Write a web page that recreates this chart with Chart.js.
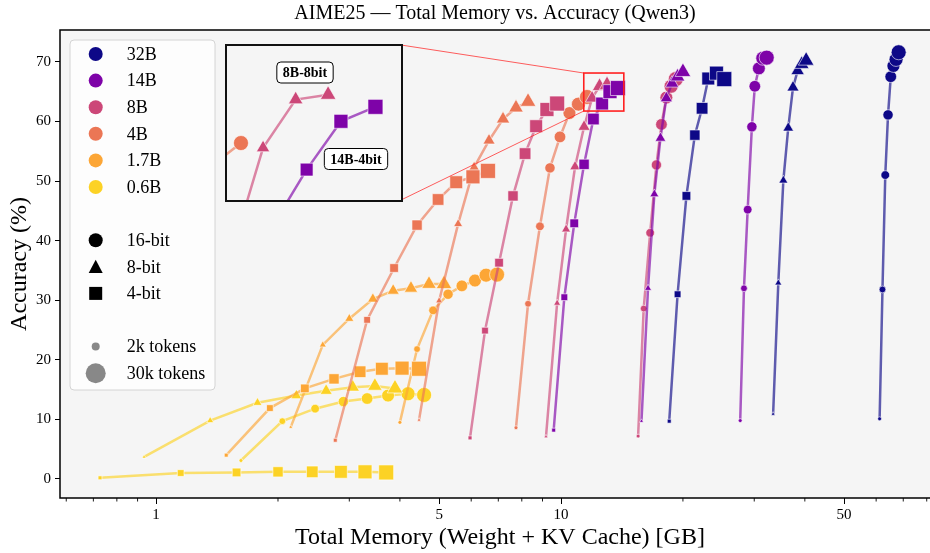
<!DOCTYPE html>
<html><head><meta charset="utf-8">
<script src="https://cdn.jsdelivr.net/npm/chart.js@4.4.1/dist/chart.umd.min.js"></script>
<style>
html,body{margin:0;padding:0;background:#fff;}
#wrap{position:relative;width:930px;height:553px;overflow:hidden;}
#main{position:absolute;left:0;top:0;}
#insetBox{position:absolute;left:225px;top:44px;width:174px;height:154px;border:2px solid #111;background:#f5f5f5;}
#inset{display:block;}
</style></head><body>
<div id="wrap"><canvas id="main" width="930" height="553"></canvas>
<div id="insetBox"><canvas id="inset" width="174" height="154"></canvas></div></div>
<script>
// ---------------- data ----------------
const MODELS = ['32B','14B','8B','4B','1.7B','0.6B'];
const BITS = [16, 8, 4];
const TOKENS_K = [2, 6, 10, 14, 18, 22, 26, 30];   // token budgets (k)
const X_TICKS = [1, 5, 10, 50];
const X_MINOR = [0.6,0.7,0.8,0.9,2,3,4,6,7,8,9,20,30,40,60,70,80];
const Y_TICKS = [0, 10, 20, 30, 40, 50, 60, 70];

const MEM_32B_16 = [61.2, 62.2, 63.2, 64.2, 65.2, 66.2, 67.2, 68.2];
const ACC_32B_16 = [10.1, 31.8, 51.0, 61.1, 67.5, 69.3, 70.4, 71.6];
const MEM_32B_8  = [33.4, 34.4, 35.4, 36.4, 37.4, 38.4, 39.3, 40.3];
const ACC_32B_8  = [10.9, 32.9, 50.1, 58.9, 65.7, 68.5, 69.6, 70.2];
const MEM_32B_4  = [18.5, 19.4, 20.4, 21.4, 22.3, 23.1, 24.2, 25.3];
const ACC_32B_4  = [9.7, 31.0, 47.5, 57.7, 62.2, 67.2, 68.1, 67.1];

const MEM_14B_16 = [27.7, 28.3, 28.9, 29.6, 30.1, 30.8, 31.5, 32.2];
const ACC_14B_16 = [9.8, 32.0, 45.2, 59.1, 65.9, 68.9, 70.6, 70.7];
const MEM_14B_8  = [15.8, 16.4, 17.0, 17.6, 18.2, 18.8, 19.4, 20.0];
const ACC_14B_8  = [9.7, 32.0, 47.8, 57.2, 63.9, 66.4, 67.5, 68.3];
const MEM_14B_4  = [9.59, 10.19, 10.78, 11.4, 12.02, 12.63, 13.21, 13.82];
const ACC_14B_4  = [8.2, 30.5, 42.9, 52.8, 60.4, 63.0, 65.0, 65.6];

const MEM_8B_16 = [15.5, 16.0, 16.6, 17.2, 17.7, 18.2, 18.7, 19.2];
const ACC_8B_16 = [7.2, 28.6, 41.3, 52.7, 59.5, 64.0, 65.9, 67.1];
const MEM_8B_8  = [9.18, 9.78, 10.29, 10.83, 11.4, 11.93, 12.45, 12.99];
const ACC_8B_8  = [7.1, 29.5, 41.9, 52.4, 59.1, 63.9, 65.9, 66.1];
const MEM_8B_4  = [5.96, 6.49, 7.03, 7.61, 8.15, 8.68, 9.23, 9.78];
const ACC_8B_4  = [6.9, 24.9, 36.3, 47.5, 54.6, 59.2, 62.0, 63.0];

const MEM_4B_16 = [7.74, 8.29, 8.87, 9.39, 9.94, 10.49, 11.04, 11.59];
const ACC_4B_16 = [8.6, 29.4, 42.4, 52.2, 57.4, 61.4, 62.9, 64.1];
const MEM_4B_8  = [4.46, 5.0, 5.57, 6.1, 6.64, 7.19, 7.74, 8.29];
const ACC_4B_8  = [9.9, 29.9, 42.8, 52.3, 56.8, 60.4, 62.3, 63.3];
const MEM_4B_4  = [2.77, 3.32, 3.87, 4.41, 4.97, 5.51, 6.06, 6.6];
const ACC_4B_4  = [6.5, 26.7, 35.4, 42.6, 46.9, 49.8, 50.7, 51.7];

const MEM_1_7B_16 = [4.0, 4.41, 4.83, 5.26, 5.69, 6.13, 6.53, 6.95];
const ACC_1_7B_16 = [9.5, 21.8, 28.3, 31.0, 32.4, 33.3, 34.2, 34.3];
const MEM_1_7B_8  = [2.15, 2.58, 3.0, 3.43, 3.85, 4.26, 4.72, 5.14];
const ACC_1_7B_8  = [8.7, 22.5, 26.9, 30.2, 31.6, 32.0, 32.7, 32.7];
const MEM_1_7B_4  = [1.49, 1.91, 2.33, 2.75, 3.19, 3.61, 4.05, 4.46];
const ACC_1_7B_4  = [4.0, 11.9, 15.2, 16.8, 18.0, 18.5, 18.6, 18.5];

const MEM_0_6B_16 = [1.62, 2.05, 2.47, 2.90, 3.32, 3.74, 4.19, 4.59];
const ACC_0_6B_16 = [3.1, 9.7, 11.8, 13.0, 13.5, 14.0, 14.3, 14.1];
const MEM_0_6B_8  = [0.934, 1.36, 1.78, 2.22, 2.63, 3.06, 3.47, 3.89];
const ACC_0_6B_8  = [3.7, 9.8, 12.8, 14.0, 14.8, 15.4, 15.6, 15.2];
const MEM_0_6B_4  = [0.727, 1.15, 1.58, 2.0, 2.43, 2.86, 3.28, 3.70];
const ACC_0_6B_4  = [0.2, 1.0, 1.1, 1.2, 1.2, 1.2, 1.2, 1.1];

// zoomed region (inset)
const INSET_X = [11.38, 14.29];
const INSET_Y = [61.74, 68.12];

// ---------------- style ----------------
const COLORS = {'32B':'#0d0887','14B':'#7e03a8','8B':'#cc4778','4B':'#eb7655','1.7B':'#fca636','0.6B':'#fcd225'};
const FONT = '"Liberation Serif", "Times New Roman", "DejaVu Serif", serif';
const SHAPE = {16:'circle', 8:'triangle', 4:'rect'};
const SHAPE_SCALE = {16:1, 8:1.2, 4:1.41};
const X_MIN = 0.579, X_MAX = 81.5, Y_MIN = -3.19, Y_MAX = 75.34;

const SERIES = [
  {model:'32B', bits:4, mem:MEM_32B_4, acc:ACC_32B_4},
  {model:'32B', bits:8, mem:MEM_32B_8, acc:ACC_32B_8},
  {model:'32B', bits:16, mem:MEM_32B_16, acc:ACC_32B_16},
  {model:'14B', bits:4, mem:MEM_14B_4, acc:ACC_14B_4},
  {model:'14B', bits:8, mem:MEM_14B_8, acc:ACC_14B_8},
  {model:'14B', bits:16, mem:MEM_14B_16, acc:ACC_14B_16},
  {model:'8B', bits:4, mem:MEM_8B_4, acc:ACC_8B_4},
  {model:'8B', bits:8, mem:MEM_8B_8, acc:ACC_8B_8},
  {model:'8B', bits:16, mem:MEM_8B_16, acc:ACC_8B_16},
  {model:'4B', bits:4, mem:MEM_4B_4, acc:ACC_4B_4},
  {model:'4B', bits:8, mem:MEM_4B_8, acc:ACC_4B_8},
  {model:'4B', bits:16, mem:MEM_4B_16, acc:ACC_4B_16},
  {model:'1.7B', bits:4, mem:MEM_1_7B_4, acc:ACC_1_7B_4},
  {model:'1.7B', bits:8, mem:MEM_1_7B_8, acc:ACC_1_7B_8},
  {model:'1.7B', bits:16, mem:MEM_1_7B_16, acc:ACC_1_7B_16},
  {model:'0.6B', bits:4, mem:MEM_0_6B_4, acc:ACC_0_6B_4},
  {model:'0.6B', bits:8, mem:MEM_0_6B_8, acc:ACC_0_6B_8},
  {model:'0.6B', bits:16, mem:MEM_0_6B_16, acc:ACC_0_6B_16},
];

function rgba(hex, a){ const n=parseInt(hex.slice(1),16); return `rgba(${n>>16},${(n>>8)&255},${n&255},${a})`; }
function radii(bits){ return TOKENS_K.map(t => 1.37*Math.sqrt(t)*SHAPE_SCALE[bits]); }
function buildDatasets(){
  return SERIES.map(s => ({
    label: s.model+'-'+s.bits+'bit',
    data: s.mem.map((m,i)=>({x:m, y:s.acc[i]})),
    showLine: true,
    borderColor: rgba(COLORS[s.model],0.65),
    borderWidth: 2.5,
    pointStyle: SHAPE[s.bits],
    pointRadius: radii(s.bits),
    pointHoverRadius: radii(s.bits),
    pointBackgroundColor: COLORS[s.model],
    pointBorderColor: '#ffffff',
    pointBorderWidth: 0.6,
    tension: 0
  }));
}

Chart.defaults.font.family = FONT;

const bgPlugin = {
  id:'bg',
  beforeDraw(chart){
    const {ctx, chartArea:a} = chart;
    ctx.save(); ctx.fillStyle='#f5f5f5'; ctx.fillRect(a.left,a.top,a.right-a.left,a.bottom-a.top); ctx.restore();
  }
};

const decorPlugin = {
  id:'decor',
  afterDatasetsDraw(chart){
    const {ctx, chartArea:a, scales:{x,y}} = chart;
    const rx1 = x.getPixelForValue(INSET_X[0]), rx2 = x.getPixelForValue(INSET_X[1]);
    const ry1 = y.getPixelForValue(INSET_Y[1]), ry2 = y.getPixelForValue(INSET_Y[0]);
    ctx.save();
    ctx.strokeStyle='rgba(255,40,40,0.75)'; ctx.lineWidth=1;
    ctx.beginPath(); ctx.moveTo(401,45); ctx.lineTo(rx1,ry1); ctx.moveTo(401,200); ctx.lineTo(rx1,ry2); ctx.stroke();
    ctx.strokeStyle='#ff2020'; ctx.lineWidth=1.6;
    ctx.strokeRect(rx1,ry1,rx2-rx1,ry2-ry1);
    ctx.restore();
  },
  afterDraw(chart){
    const {ctx, chartArea:a, scales:{x,y}} = chart;
    ctx.save();
    ctx.strokeStyle='#000'; ctx.lineWidth=1.5;
    ctx.beginPath();
    ctx.moveTo(a.right+2, a.top); ctx.lineTo(a.left, a.top); ctx.lineTo(a.left, a.bottom); ctx.lineTo(a.right+2, a.bottom);
    ctx.stroke();
    ctx.lineWidth=0.9;
    ctx.beginPath();
    X_MINOR.forEach(v=>{ const px=x.getPixelForValue(v); if(px>=a.left&&px<=a.right){ ctx.moveTo(px,a.bottom); ctx.lineTo(px,a.bottom+3.5);} });
    ctx.stroke();
    ctx.fillStyle='#000'; ctx.textAlign='center'; ctx.textBaseline='middle';
    ctx.font='20px '+FONT;
    ctx.fillText('AIME25 \u2014 Total Memory vs. Accuracy (Qwen3)', 495, 14);
    ctx.font='24px '+FONT;
    ctx.fillText('Total Memory (Weight + KV Cache) [GB]', 500, 538);
    ctx.translate(20,(a.top+a.bottom)/2); ctx.rotate(-Math.PI/2);
    ctx.fillText('Accuracy (%)',0,0);
    ctx.restore();
    drawLegend(ctx);
  }
};

function drawShape(ctx, shape, cx, cy, r, color){
  ctx.fillStyle=color;
  ctx.beginPath();
  if(shape==='circle'){ ctx.arc(cx,cy,r,0,Math.PI*2); }
  else if(shape==='triangle'){ ctx.moveTo(cx,cy-r); ctx.lineTo(cx+r,cy+r*0.9); ctx.lineTo(cx-r,cy+r*0.9); ctx.closePath(); }
  else { ctx.rect(cx-r,cy-r,2*r,2*r); }
  ctx.fill();
}

function drawLegend(ctx){
  ctx.save();
  const bx=70, by=40, bw=145, bh=350, rad=4;
  ctx.fillStyle='rgba(255,255,255,0.8)'; ctx.strokeStyle='#d4d4d4'; ctx.lineWidth=1;
  ctx.beginPath(); ctx.roundRect(bx,by,bw,bh,rad); ctx.fill(); ctx.stroke();
  const rows = [];
  MODELS.forEach(m=>rows.push({shape:'circle', r:7, color:COLORS[m], label:m}));
  rows.push(null);
  rows.push({shape:'circle', r:7, color:'#000', label:'16-bit'});
  rows.push({shape:'triangle', r:7, color:'#000', label:'8-bit'});
  rows.push({shape:'square', r:6.5, color:'#000', label:'4-bit'});
  rows.push(null);
  rows.push({shape:'circle', r:4, color:'#888', label:TOKENS_K[0]+'k tokens'});
  rows.push({shape:'circle', r:10, color:'#888', label:TOKENS_K[TOKENS_K.length-1]+'k tokens'});
  ctx.font='18px '+FONT; ctx.textAlign='left'; ctx.textBaseline='middle';
  rows.forEach((row,i)=>{
    if(!row) return;
    const cy = 54 + i*26.6;
    drawShape(ctx,row.shape,95.7,cy,row.r,row.color);
    ctx.fillStyle='#000'; ctx.fillText(row.label,126.7,cy+1);
  });
  ctx.restore();
}

new Chart(document.getElementById('main'), {
  type:'scatter',
  data:{datasets: buildDatasets()},
  options:{
    responsive:false, animation:false, events:[],
    layout:{autoPadding:false, padding:{top:30,right:0,left:0,bottom:0}},
    plugins:{legend:{display:false}, tooltip:{enabled:false}, title:{display:false}},
    scales:{
      x:{type:'logarithmic', min:X_MIN, max:X_MAX,
        afterFit(s){ s.height=55; s.paddingLeft=0; s.paddingRight=0; },
        afterBuildTicks(s){ s.ticks = X_TICKS.map(v=>({value:v})); },
        ticks:{color:'#000', font:{size:15, family:FONT}, padding:2, maxRotation:0, autoSkip:false, callback:v=>String(v)},
        grid:{display:true, drawOnChartArea:false, drawTicks:true, tickLength:6, tickColor:'#000', tickWidth:1},
        border:{display:false}},
      y:{type:'linear', min:Y_MIN, max:Y_MAX,
        afterFit(s){ s.width=60; s.paddingTop=0; s.paddingBottom=0; },
        afterBuildTicks(s){ s.ticks = Y_TICKS.map(v=>({value:v})); },
        ticks:{color:'#000', font:{size:15, family:FONT}, padding:4, autoSkip:false, callback:v=>String(v)},
        grid:{display:true, drawOnChartArea:false, drawTicks:true, tickLength:5, tickColor:'#000', tickWidth:1},
        border:{display:false}}
    }
  },
  plugins:[bgPlugin, decorPlugin]
});

// ---------------- inset ----------------
const insetLabels = {
  id:'insetLabels',
  afterDraw(chart){
    const ctx=chart.ctx;
    ctx.save();
    ctx.font='bold 14px '+FONT; ctx.textAlign='center'; ctx.textBaseline='middle';
    [['8B-8bit',78,26.5],['14B-4bit',129,113]].forEach(([t,cx,cy])=>{
      const w=ctx.measureText(t).width+12, h=21;
      ctx.fillStyle='#fff'; ctx.strokeStyle='#000'; ctx.lineWidth=1;
      ctx.beginPath(); ctx.roundRect(cx-w/2,cy-h/2,w,h,4); ctx.fill(); ctx.stroke();
      ctx.fillStyle='#000'; ctx.fillText(t,cx,cy+1);
    });
    ctx.restore();
  }
};
new Chart(document.getElementById('inset'), {
  type:'scatter',
  data:{datasets: buildDatasets()},
  options:{
    responsive:false, animation:false, events:[],
    layout:{autoPadding:false, padding:0},
    plugins:{legend:{display:false}, tooltip:{enabled:false}},
    scales:{
      x:{type:'logarithmic', min:INSET_X[0], max:INSET_X[1], display:false},
      y:{type:'linear', min:INSET_Y[0], max:INSET_Y[1], display:false}
    }
  },
  plugins:[insetLabels]
});
</script>
</body></html>
